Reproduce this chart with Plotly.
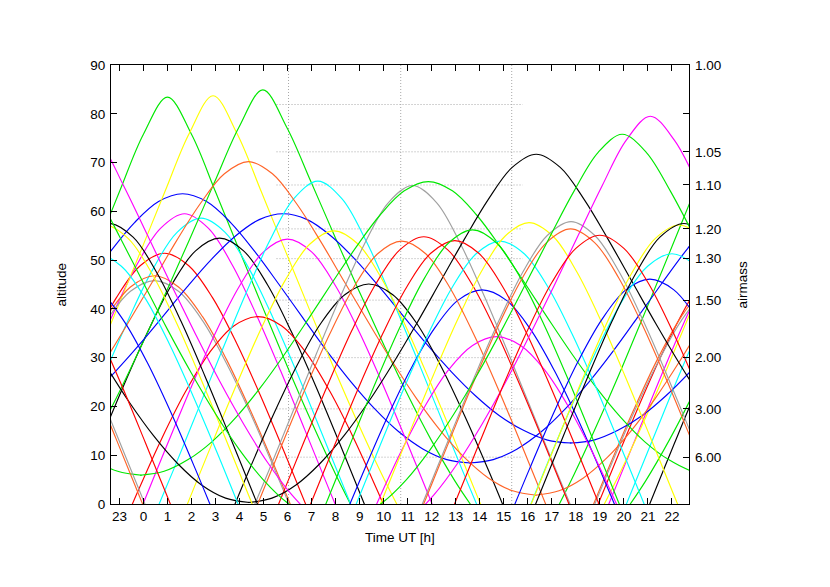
import plotly.graph_objects as go

# ---------------- data ----------------
# x axis: hours UT, 0 = tick "0" (previous evening hour 23 = -1)
x_tick_values = list(range(-1, 23))
x_tick_labels = ["23"] + [str(h) for h in range(0, 23)]
x_range = [-1.35, 22.71]

# sidereal day in hours (tracks repeat after this)
sidereal_day = 23.93
# altitude profiles are sampled at hour angles 0, 1, 2, ... hours (symmetric about transit)

# transit times (h UT) and altitude (deg) at hour angle 0,1,2,...
red_transit = [0.875, 4.76, 11.67, 12.96, 19.0]
red_alt = [
    [51.4, 48.9, 42.3, 33.0, 22.2, 10.5, -1.5],
    [38.4, 36.5, 31.1, 23.1, 13.4, 2.5, -9.1],
    [54.8, 52.1, 45.1, 35.5, 24.4, 12.6, 0.5, -11.6],
    [54.0, 51.4, 44.5, 34.9, 23.9, 12.1, 0.0, -12.1],
    [55.1, 52.4, 45.4, 35.7, 24.6, 12.7, 0.6, -11.4],
]

green_transit = [1.0, 4.97, 11.86, 13.7, 19.93]
green_alt = [
    [83.4, 75.8, 64.0, 51.9, 39.9, 28.1, 16.8, 6.1, -3.7],
    [84.9, 77.2, 66.1, 54.8, 43.7, 33.0, 22.7, 13.2, 4.7, -2.6],
    [66.1, 64.2, 59.3, 52.7, 45.4, 37.9, 30.6, 23.8, 17.8, 12.8, 9.1, 6.7, 5.9],
    [56.2, 53.5, 46.3, 36.5, 25.3, 13.4, 1.3, -10.8],
    [75.8, 72.1, 64.2, 54.9, 45.3, 35.8, 26.8, 18.5, 11.1, 4.9, 0.2, -2.8, -3.8],
]

blue_transit = [1.63, 5.82, 14.1, 21.08]
blue_alt = [
    [63.6, 62.0, 57.7, 51.8, 45.1, 38.2, 31.4, 25.1, 19.5, 14.8, 11.3, 9.1, 8.4],
    [59.5, 58.3, 54.9, 50.1, 44.5, 38.5, 32.6, 27.1, 22.2, 18.1, 15.1, 13.1, 12.5],
    [43.9, 41.8, 35.9, 27.4, 17.2, 5.9, -5.9],
    [46.1, 43.9, 37.8, 29.1, 18.7, 7.3, -4.6],
]

magenta_transit = [1.71, 6.0, 14.7, 21.1]
magenta_alt = [
    [59.5, 56.5, 48.9, 38.7, 27.3, 15.3, 3.2, -8.7],
    [54.3, 51.7, 44.7, 35.1, 24.1, 12.3, 0.2, -11.9],
    [34.3, 32.5, 27.5, 19.9, 10.5, -0.1, -11.4],
    [79.5, 74.6, 65.3, 55.1, 44.8, 34.8, 25.2, 16.4, 8.5, 1.9, -3.2],
]

cyan_transit = [2.4, 7.26, 14.85, 22.0]
cyan_alt = [
    [58.6, 55.7, 48.2, 38.1, 26.8, 14.8, 2.7, -9.3],
    [66.2, 62.6, 54.0, 43.1, 31.3, 19.2, 7.1, -4.6],
    [53.9, 51.3, 44.4, 34.8, 23.8, 12.0, -0.1, -12.2],
    [51.3, 48.8, 42.2, 32.9, 22.1, 10.5, -1.6],
]

yellow_transit = [2.9, 7.93, 16.05, 22.3]
yellow_alt = [
    [83.7, 75.9, 64.1, 52.0, 40.0, 28.2, 16.9, 6.3, -3.4],
    [56.0, 53.3, 46.1, 36.3, 25.1, 13.3, 1.2, -10.9],
    [57.7, 54.9, 47.5, 37.5, 26.2, 14.3, 2.2, -9.8],
    [57.2, 54.4, 47.1, 37.2, 25.9, 14.0, 1.9, -10.1],
]

black_transit = [3.17, 9.38, 16.35, 22.5]
black_alt = [
    [54.5, 51.9, 44.9, 35.2, 24.2, 12.4, 0.3, -11.8],
    [45.1, 42.9, 37.0, 28.3, 18.0, 6.7, -5.2],
    [71.7, 69.0, 62.4, 54.2, 45.5, 36.8, 28.5, 20.8, 14.0, 8.3, 3.9, 1.2, 0.3],
    [57.5, 54.7, 47.3, 37.4, 26.1, 14.2, 2.1, -10.0],
]

orange_transit = [0.46, 4.37, 10.75, 17.78]
orange_alt = [
    [46.8, 44.5, 38.4, 29.6, 19.1, 7.7, -4.2],
    [70.2, 67.7, 61.6, 53.9, 45.5, 37.2, 29.1, 21.6, 15.0, 9.5, 5.3, 2.7, 1.8],
    [53.9, 51.3, 44.4, 34.8, 23.8, 12.0, -0.1, -12.2],
    [56.4, 53.6, 46.4, 36.6, 25.4, 13.5, 1.4, -10.7],
]

gray_transit = [0.46, 11.2, 17.8]
gray_alt = [
    [45.8, 43.6, 37.6, 28.8, 18.5, 7.1, -4.8],
    [65.3, 61.8, 53.3, 42.5, 30.8, 18.7, 6.6, -5.2],
    [57.9, 55.0, 47.6, 37.6, 26.3, 14.4, 2.3, -9.7],
]

# right axis: airmass labels at altitude positions
airmass_tick_alt = [90, 80, 72.2, 65.4, 56.4, 50.3, 41.8, 30.0, 19.5, 9.6]
airmass_tick_text = ["1.00", "", "1.05", "1.10", "1.20", "1.30", "1.50", "2.00", "3.00", "6.00"]

# dotted guide lines
guide_hours = [6.04, 10.71, 15.33]
guide_airmass_alt = [81.9, 72.2, 65.4, 56.4, 50.3, 41.8, 30.0, 19.5, 9.6]
guide_span_hours = [5.54, 15.79]

series = [
    ("#ff0000", red_transit, red_alt),
    ("#00e800", green_transit, green_alt),
    ("#0000ff", blue_transit, blue_alt),
    ("#ff00ff", magenta_transit, magenta_alt),
    ("#00ffff", cyan_transit, cyan_alt),
    ("#ffff00", yellow_transit, yellow_alt),
    ("#000000", black_transit, black_alt),
    ("#ff6428", orange_transit, orange_alt),
    ("#a0a0a0", gray_transit, gray_alt),
]

FONT = "Liberation Sans, Arial, sans-serif"
GUIDE = dict(color="#a8a8a8", width=1, dash="1px,2px")
fig = go.Figure()

# guide lines (behind curves)
for h in guide_hours:
    fig.add_trace(go.Scatter(x=[h, h], y=[0, 90], mode="lines", line=GUIDE,
                             hoverinfo="skip", showlegend=False))
for a in guide_airmass_alt:
    fig.add_trace(go.Scatter(x=guide_span_hours, y=[a, a], mode="lines", line=GUIDE,
                             hoverinfo="skip", showlegend=False))

# star tracks, drawn in cycling colour order
max_n = max(len(t) for _, t, _ in series)
for i in range(max_n):
    for color, transits, alts in series:
        if i >= len(transits):
            continue
        t0 = transits[i]
        prof = alts[i]
        n = len(prof)
        hours = list(range(-(n - 1), n))
        values = prof[::-1] + prof[1:]
        xs, ys = [], []
        for k in (-1, 0, 1):
            base = t0 + k * sidereal_day
            xs += [base + h for h in hours] + [None]
            ys += values + [None]
        fig.add_trace(go.Scatter(x=xs, y=ys, mode="lines",
                                 line=dict(color=color, width=1.15, shape="spline", smoothing=1.0),
                                 connectgaps=False, hoverinfo="skip", showlegend=False))

# invisible trace to activate right axis
fig.add_trace(go.Scatter(x=[x_range[0]], y=[0], yaxis="y2", mode="markers",
                         marker=dict(opacity=0), hoverinfo="skip", showlegend=False))

fig.update_layout(
    width=830, height=587,
    margin=dict(l=111, r=141, t=65, b=83),
    paper_bgcolor="white", plot_bgcolor="white",
    font=dict(family=FONT, size=13.5, color="black"),
    xaxis=dict(range=x_range, tickvals=x_tick_values, ticktext=x_tick_labels,
               ticks="inside", ticklen=6, tickcolor="black", showline=True,
               linecolor="black", linewidth=1, mirror="ticks", showgrid=False,
               zeroline=False),
    yaxis=dict(range=[0, 90], tickvals=list(range(0, 91, 10)), ticks="inside",
               ticklen=6, tickcolor="black", showline=True, linecolor="black",
               linewidth=1, mirror=True, showgrid=False, zeroline=False,
               ticklabelstandoff=2),
    yaxis2=dict(range=[0, 90], overlaying="y", side="right", tickvals=airmass_tick_alt,
                ticktext=airmass_tick_text, ticks="inside", ticklen=6, tickcolor="black",
                showline=False, showgrid=False, zeroline=False, ticklabelstandoff=5),
    annotations=[
        dict(text="Time UT [h]", xref="paper", yref="paper", x=0.5, y=-0.0774,
             xanchor="center", yanchor="middle", showarrow=False),
        dict(text="altitude", xref="paper", yref="paper", x=-0.0848, y=0.5,
             xanchor="center", yanchor="middle", textangle=-90, showarrow=False),
        dict(text="airmass", xref="paper", yref="paper", x=1.0917, y=0.5,
             xanchor="center", yanchor="middle", textangle=-90, showarrow=False),
    ],
)

fig.write_html("out.html", config={"displayModeBar": False},
               post_script="document.body.style.margin='0px';document.body.style.overflow='hidden';")
